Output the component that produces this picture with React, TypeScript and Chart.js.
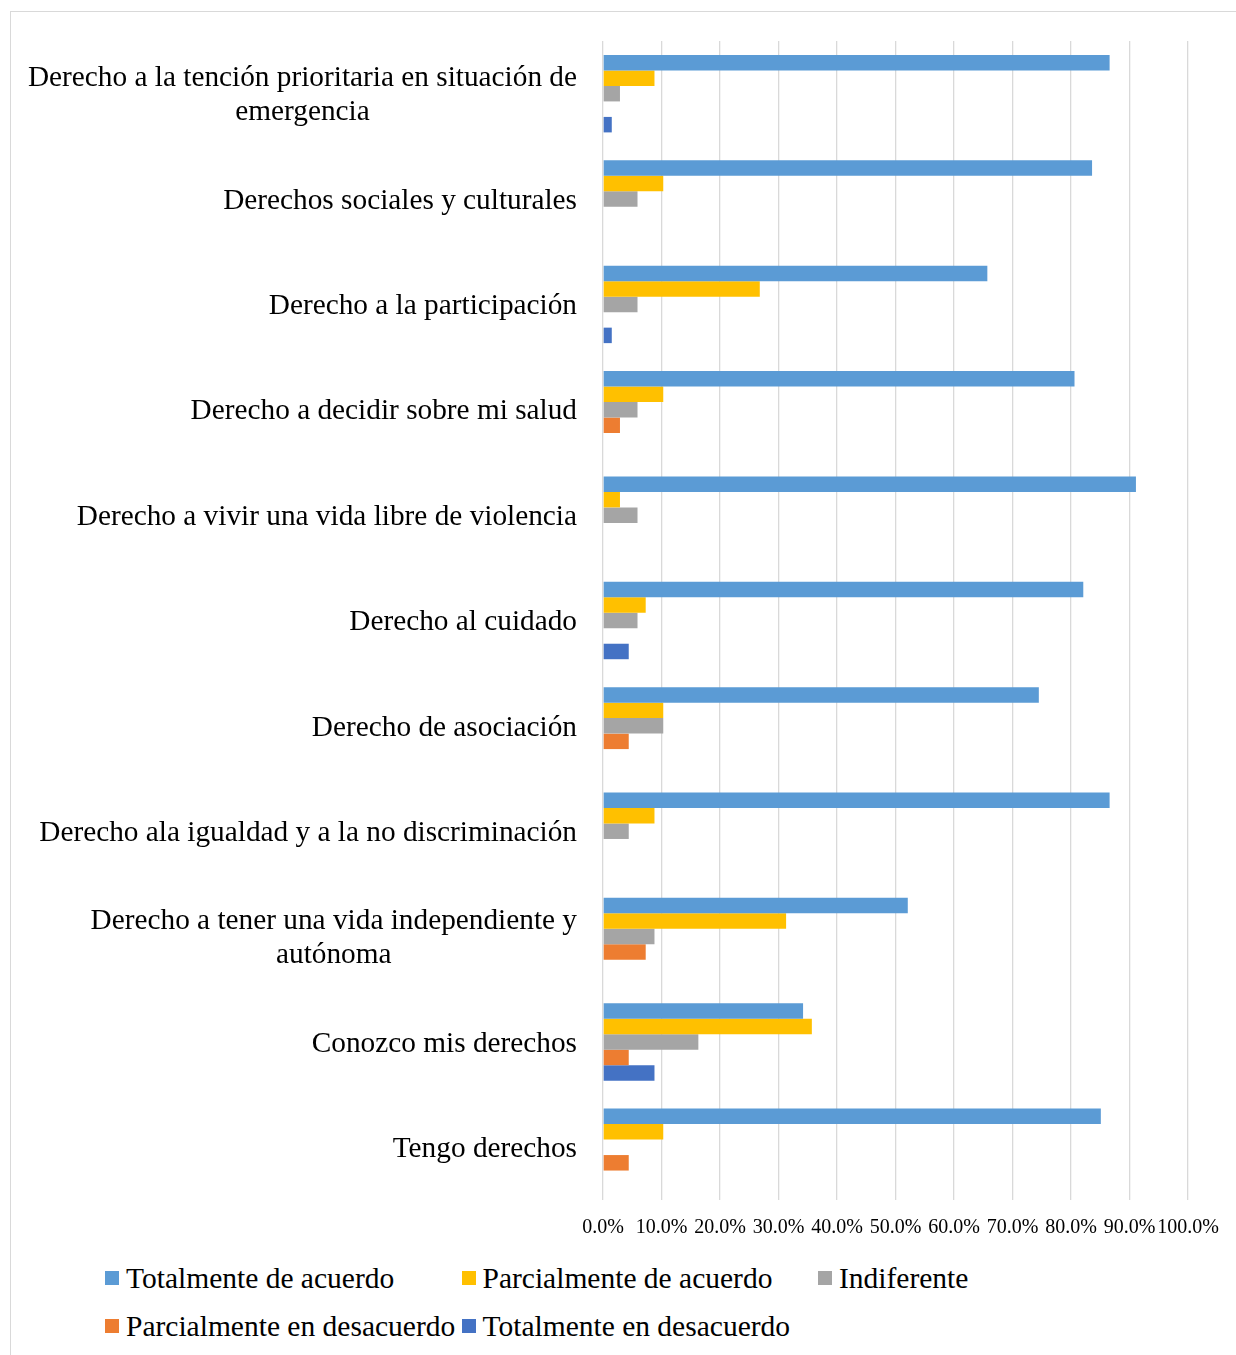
import React, { useEffect, useRef } from "react";
import { Chart, registerables } from "chart.js";

Chart.register(...registerables);

const FONT = "'Liberation Serif', 'Times New Roman', serif";

const categories: string[][] = [
  ["Derecho a la tención prioritaria en situación de", "emergencia"],
  ["Derechos sociales y culturales"],
  ["Derecho a la participación"],
  ["Derecho a decidir sobre mi salud"],
  ["Derecho a vivir una vida libre de violencia"],
  ["Derecho al cuidado"],
  ["Derecho de asociación"],
  ["Derecho ala igualdad y a la no discriminación"],
  ["Derecho a tener una vida independiente y", "autónoma"],
  ["Conozco mis derechos"],
  ["Tengo derechos"],
];

const seriesNames = [
  "Totalmente de acuerdo",
  "Parcialmente de acuerdo",
  "Indiferente",
  "Parcialmente en desacuerdo",
  "Totalmente en desacuerdo",
];

const seriesColors = ["#5B9BD5", "#FFC000", "#A5A5A5", "#ED7D31", "#4472C4"];

const totalmenteDeAcuerdo = [86.6, 83.6, 65.7, 80.6, 91.1, 82.1, 74.5, 86.6, 52.1, 34.2, 85.1];
const parcialmenteDeAcuerdo = [8.8, 10.3, 26.8, 10.3, 2.9, 7.3, 10.3, 8.8, 31.3, 35.7, 10.3];
const indiferente = [2.9, 5.9, 5.9, 5.9, 5.9, 5.9, 10.3, 4.4, 8.8, 16.3, 0];
const parcialmenteEnDesacuerdo = [0, 0, 0, 2.9, 0, 0, 4.4, 0, 7.3, 4.4, 4.4];
const totalmenteEnDesacuerdo = [1.5, 0, 1.5, 0, 0, 4.4, 0, 0, 0, 8.8, 0];

const seriesValues = [
  totalmenteDeAcuerdo,
  parcialmenteDeAcuerdo,
  indiferente,
  parcialmenteEnDesacuerdo,
  totalmenteEnDesacuerdo,
];

const xMin = 0;
const xMax = 100;
const xStep = 10;

const categoryLabelPlugin = {
  id: "categoryLabels",
  afterDraw(chart: any) {
    const { ctx, chartArea } = chart;
    const yScale = chart.scales.y;
    const labels = chart.data.labels as string[][];
    ctx.save();
    ctx.font = `29.3px ${FONT}`;
    ctx.fillStyle = "#000000";
    ctx.textBaseline = "middle";
    ctx.textAlign = "center";
    const right = chartArea.left - 26;
    const lh = 34;
    labels.forEach((lines, i) => {
      const yc = yScale.getPixelForValue(i) + 2;
      const w = Math.max(...lines.map((l) => ctx.measureText(l).width));
      const cx = right - w / 2;
      lines.forEach((line, j) => {
        const y = yc + (j - (lines.length - 1) / 2) * lh;
        ctx.fillText(line, cx, y);
      });
    });
    ctx.restore();
  },
};

export default function App() {
  const canvasRef = useRef<HTMLCanvasElement | null>(null);

  useEffect(() => {
    if (!canvasRef.current) return;
    const chart = new Chart(canvasRef.current, {
      type: "bar",
      data: {
        labels: categories as any,
        datasets: seriesNames.map((name, i) => ({
          label: name,
          data: seriesValues[i],
          backgroundColor: seriesColors[i],
          borderWidth: 0,
          categoryPercentage: 0.735,
          barPercentage: 1,
        })),
      },
      options: {
        indexAxis: "y",
        responsive: false,
        animation: false,
        devicePixelRatio: 1,
        layout: { padding: { top: 29, right: 48, left: 0, bottom: 0 } },
        plugins: {
          legend: { display: false },
          tooltip: { enabled: false },
          title: { display: false },
        },
        scales: {
          x: {
            min: xMin,
            max: xMax,
            afterFit: (scale: any) => {
              scale.height = 52;
            },
            ticks: {
              stepSize: xStep,
              autoSkip: false,
              maxRotation: 0,
              minRotation: 0,
              padding: 16,
              color: "#000000",
              font: { family: FONT, size: 20 },
              callback: (v: any) => Number(v).toFixed(1) + "%",
            },
            grid: {
              color: "#D9D9D9",
              lineWidth: 1.3,
              drawTicks: false,
            },
            border: { display: false },
          },
          y: {
            afterFit: (scale: any) => {
              scale.width = 592;
            },
            ticks: { display: false },
            grid: { display: false, drawTicks: false },
            border: { display: false },
          },
        },
      },
      plugins: [categoryLabelPlugin],
    });
    return () => chart.destroy();
  }, []);

  return (
    <div
      style={{
        position: "absolute",
        left: 10,
        top: 11,
        width: 1226,
        height: 1344,
        boxSizing: "border-box",
        borderTop: "1px solid #D9D9D9",
        borderLeft: "1px solid #D9D9D9",
        background: "#FFFFFF",
      }}
    >
      <canvas
        ref={canvasRef}
        width={1225}
        height={1240}
        style={{ position: "absolute", left: 0, top: 0, width: 1225, height: 1240 }}
      />
      <div
        style={{
          position: "absolute",
          left: 94,
          top: 1242,
          display: "grid",
          gridTemplateColumns: "356.5px 356.5px auto",
          gridAutoRows: "48px",
          fontFamily: FONT,
          fontSize: 29.5,
          color: "#000000",
        }}
      >
        {seriesNames.map((name, i) => (
          <div
            key={name}
            style={{ display: "flex", alignItems: "center", whiteSpace: "nowrap", lineHeight: "48px" }}
          >
            <span
              style={{
                display: "inline-block",
                width: 14,
                height: 14,
                background: seriesColors[i],
                marginRight: 7,
                flex: "0 0 auto",
              }}
            />
            <span>{name}</span>
          </div>
        ))}
      </div>
    </div>
  );
}
